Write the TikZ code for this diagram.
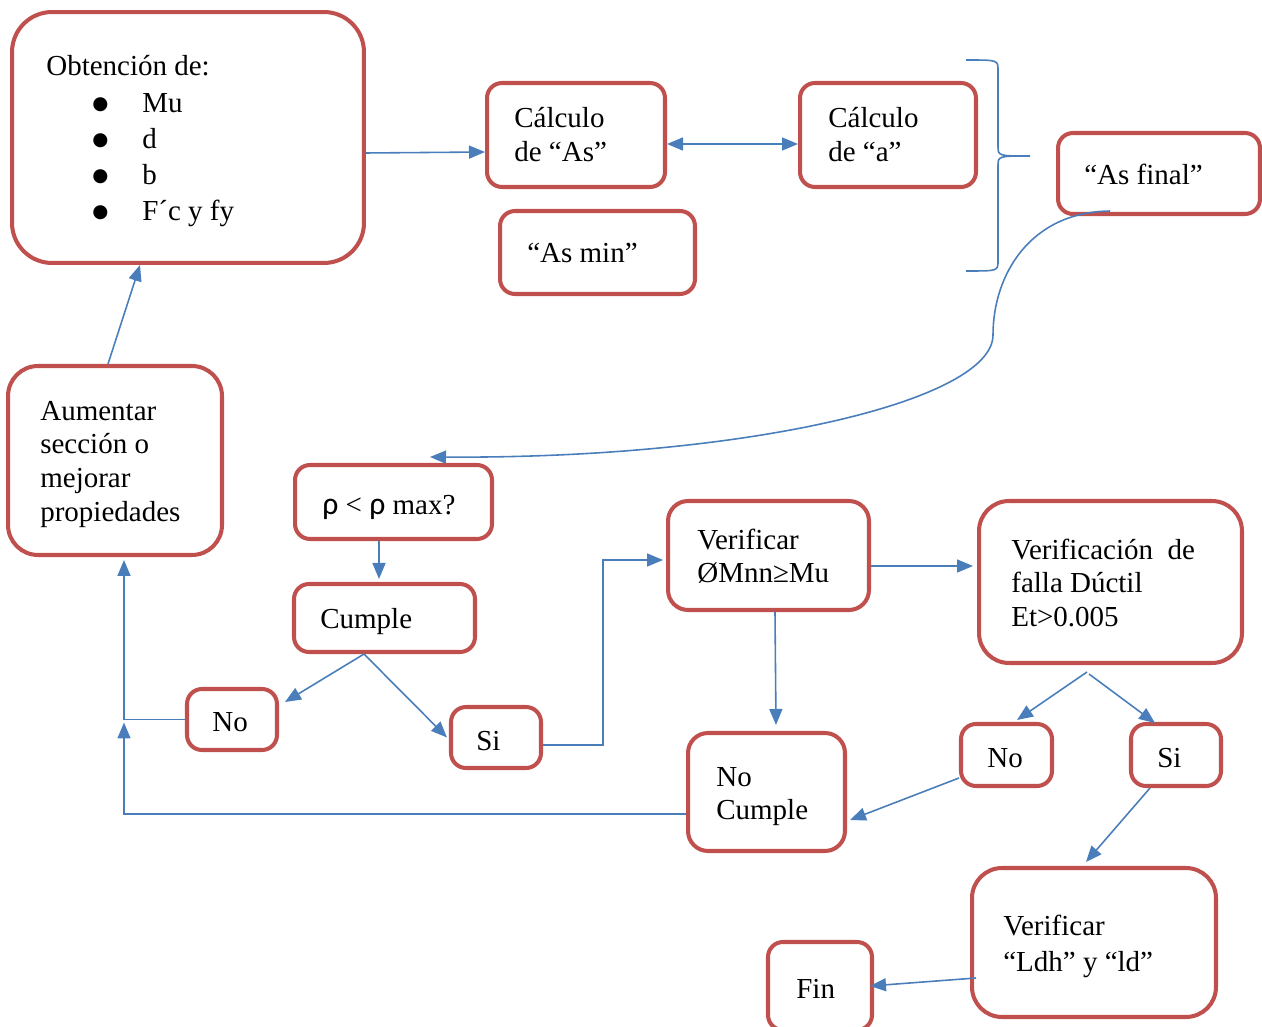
\documentclass[tikz,border=0pt]{standalone}
\usepackage{fontspec}
\setmainfont{Liberation Serif}
\newfontfamily\rhofont{Carlito}
\newfontfamily\symfont{DejaVu Sans}
\usetikzlibrary{arrows.meta}
\definecolor{boxred}{HTML}{C0504D}
\definecolor{linkblue}{HTML}{4A7EBB}
\newcommand{\itembul}{\hspace*{0.92cm}\makebox[1.0cm][l]{\raisebox{0.05cm}{\symfont\fontsize{10.5}{12}\selectfont ●}}}

\begin{document}
\begin{tikzpicture}[x=0.02cm,y=-0.02cm,
  box/.style={draw=boxred, line width=2.3pt, fill=white, inner sep=0pt, rounded corners=#1},
  box/.default=0.3cm,
  txt/.style={anchor=base west, inner sep=0pt, text width=7cm, align=flush left,
              font=\fontsize{16.5}{19.3}\selectfont},
  link/.style={draw=linkblue, line width=0.9pt},
  arr/.style={link, -{Triangle[length=0.32cm,width=0.26cm]}},
  darr/.style={link, {Triangle[length=0.32cm,width=0.26cm]}-{Triangle[length=0.32cm,width=0.26cm]}}
]
\useasboundingbox (0,0) rectangle (1262,1027);

% boxes
\node[box=0.8cm, minimum width=7.04cm, minimum height=5.02cm] (A) at (188,137.5) {};
\node[box, minimum width=3.56cm, minimum height=2.08cm] (AsC) at (576,135) {};
\node[box, minimum width=3.52cm, minimum height=2.08cm] (aC) at (888,135) {};
\node[box, minimum width=3.90cm, minimum height=1.66cm] (Asmin) at (597.5,252.5) {};
\node[box, minimum width=4.04cm, minimum height=1.62cm] (Asfin) at (1159,173.5) {};
\node[box=0.6cm, minimum width=4.28cm, minimum height=3.78cm] (Aum) at (115,460.5) {};
\node[box, minimum width=3.94cm, minimum height=1.48cm] (rho) at (393.5,502) {};
\node[box, minimum width=3.62cm, minimum height=1.36cm] (Cum) at (384.5,618) {};
\node[box, minimum width=1.80cm, minimum height=1.22cm] (NoL) at (232,719.5) {};
\node[box, minimum width=1.80cm, minimum height=1.22cm] (SiL) at (496,737.5) {};
\node[box=0.4cm, minimum width=4.02cm, minimum height=2.18cm] (VerM) at (768.5,555.5) {};
\node[box=0.6cm, minimum width=5.26cm, minimum height=3.24cm] (VerF) at (1110.5,582) {};
\node[box=0.4cm, minimum width=3.14cm, minimum height=2.36cm] (NoC) at (766.5,792) {};
\node[box, minimum width=1.82cm, minimum height=1.24cm] (NoR) at (1006.5,755) {};
\node[box, minimum width=1.80cm, minimum height=1.24cm] (SiR) at (1176,755) {};
\node[box=0.6cm, minimum width=4.88cm, minimum height=2.98cm] (Ldh) at (1094,942.5) {};
\node[box, minimum width=2.08cm, minimum height=1.76cm] (Fin) at (820,986) {};

% texts
\node[txt, font=\fontsize{16.5}{20.5}\selectfont] (tA) at (46,76)
  {Obtención de:\\
   \itembul Mu\\
   \itembul d\\
   \itembul b\\
   \itembul F´c y fy};
\node[txt] (tAsC) at (514,128) {Cálculo\\de “As”};
\node[txt] (taC) at (828,128) {Cálculo\\de “a”};
\node[txt] (tAsmin) at (527,263) {“As min”};
\node[txt] (tAsfin) at (1084,185) {“As final”};
\node[txt] (tAum) at (40,420) {Aumentar\\sección o\\mejorar\\propiedades};
\node[txt] (trho) at (322,514) {{\rhofont\fontsize{18}{19}\selectfont ρ} < {\rhofont\fontsize{18}{19}\selectfont ρ} max?};
\node[txt] (tCum) at (320,628) {Cumple};
\node[txt] (tNoL) at (212,731) {No};
\node[txt] (tSiL) at (476,750) {Si};
\node[txt] (tVerM) at (697,549) {Verificar\\ØMnn≥Mu};
\node[txt] (tVerF) at (1011,559) {Verificación\ \ de\\falla Dúctil\\Et>0.005};
\node[txt] (tNoC) at (716,786) {No\\Cumple};
\node[txt] (tNoR) at (987,767) {No};
\node[txt] (tSiR) at (1157,767) {Si};
\node[txt, font=\fontsize{16.5}{21}\selectfont] (tLdh) at (1003,935) {Verificar\\“Ldh” y “ld”};
\node[txt] (tFin) at (796,998) {Fin};

% brace grouping the two calculations
\draw[link] (966,60) .. controls (998,60) .. (998,70) -- (998,146)
  .. controls (998,156) .. (1030,156)
  .. controls (998,156) .. (998,166) -- (998,261)
  .. controls (998,271) .. (966,271);

% connectors
\draw[arr] ([yshift=-0.31cm]A.east) -- ([yshift=-0.34cm]AsC.west);
\draw[darr] ([yshift=-0.18cm]AsC.east) -- ([yshift=-0.18cm]aC.west);
\draw[arr] ([xshift=-0.14cm]Aum.north) -- ([xshift=-0.96cm]A.south);
\draw[arr] ([xshift=-0.98cm,yshift=0.1cm]Asfin.south)
  .. controls (1030,212) and (993,275) .. (993,335)
  .. controls (993,400) and (750,459) .. ([xshift=0.73cm,yshift=0.12cm]rho.north);
\draw[arr] ([xshift=-0.29cm]rho.south) -- ([xshift=-0.11cm,yshift=0.06cm]Cum.north);
\draw[arr] ([xshift=-0.41cm]Cum.south) -- ([xshift=0.12cm,yshift=0.35cm]NoL.east);
\draw[arr] ([xshift=-0.41cm]Cum.south) -- ([xshift=-0.04cm]SiL.west);
\draw[arr] (NoL.west) -| ([xshift=0.18cm,yshift=-0.06cm]Aum.south);
\coordinate (jn) at ([xshift=0.18cm]Aum.south |- NoL.west);
\draw[arr] ([yshift=-0.44cm]NoC.west) -| ([yshift=-0.06cm]jn);
\draw[arr] ([yshift=-0.15cm]SiL.east) -- ++(60,0) |- ([xshift=-0.06cm,yshift=-0.09cm]VerM.west);
\draw[arr] ([yshift=0.32cm]VerM.east |- VerF.west) -- ([xshift=-0.08cm,yshift=0.32cm]VerF.west);
\draw[arr] ([xshift=0.13cm]VerM.south) -- ([xshift=0.19cm,yshift=0.12cm]NoC.north);
\draw[arr] ([xshift=-0.47cm,yshift=-0.14cm]VerF.south) -- ([xshift=0.21cm,yshift=0.04cm]NoR.north);
\draw[arr] ([xshift=-0.43cm,yshift=-0.18cm]VerF.south) -- ([xshift=-0.42cm,yshift=-0.02cm]SiR.north);
\draw[arr] ([yshift=-0.46cm]NoR.west) -- ([xshift=0.06cm,yshift=-0.56cm]NoC.east);
\draw[arr] ([xshift=-0.52cm]SiR.south) -- ([xshift=-0.16cm,yshift=0.08cm]Ldh.north);
\draw[arr] ([xshift=0.12cm,yshift=-0.71cm]Ldh.west) -- ([xshift=-0.08cm]Fin.east);
\end{tikzpicture}
\end{document}
